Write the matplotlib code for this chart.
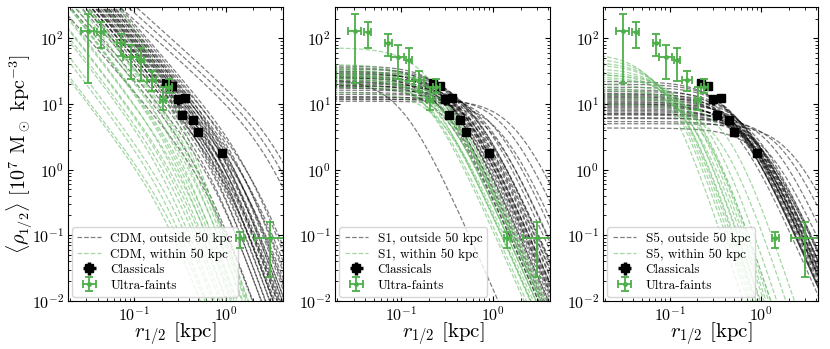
import numpy as np
import matplotlib.pyplot as plt

plt.rcParams['font.family'] = 'serif'
plt.rcParams['font.serif'] = ['cmr10']
plt.rcParams['mathtext.fontset'] = 'cm'
plt.rcParams['axes.formatter.use_mathtext'] = True
plt.rcParams['xtick.direction'] = 'in'
plt.rcParams['ytick.direction'] = 'in'
plt.rcParams['xtick.top'] = True
plt.rcParams['ytick.right'] = True

# observed dwarfs: r_1/2 [kpc], <rho> [1e7 Msun/kpc^3]
uf_r = [0.031, 0.043, 0.072, 0.092, 0.12, 0.155, 0.205, 0.24, 1.43, 3.0]
uf_r_lo = [0.005, 0.004, 0.0066, 0.016, 0.008, 0.017, 0.015, 0.02, 0.13, 0.9]
uf_r_hi = [0.005, 0.004, 0.0072, 0.015, 0.009, 0.019, 0.015, 0.02, 0.13, 2.0]
uf_rho = [130, 123, 86, 52, 46, 23, 11.5, 18, 0.09, 0.09]
uf_rho_lo = [109, 53, 33, 28, 24, 7, 3.4, 3.2, 0.027, 0.067]
uf_rho_hi = [103, 52, 32, 28, 24, 9, 6.5, 6, 0.022, 0.07]

cl_r = [0.22, 0.26, 0.30, 0.36, 0.33, 0.44, 0.50, 0.90]
cl_rho = [21, 19, 11.8, 12.5, 6.8, 5.7, 3.8, 1.8]
cl_r_err = [0.012, 0.008, 0.025, 0.015, 0.008, 0.012, 0.012, 0.06]
cl_rho_err = [2.0, 1.0, 2.0, 1.3, 0.4, 0.4, 0.25, 0.25]

# CDM curves: density at 0.3 kpc and break radius
cdm_out_v = [28, 25, 23, 21, 20, 19, 18, 17, 16, 15, 14.5, 14, 13, 12.5, 12,
             11, 10.5, 10, 9.5, 9, 8.5, 8, 7.5, 7, 6.5, 6, 5, 4, 3, 2.2]
cdm_out_rs = [2.0, 1.5, 2.5, 1.2, 1.8, 1.0, 1.4, 2.2, 1.1, 1.6, 0.9, 1.3, 1.0, 1.9, 0.8,
              1.2, 1.5, 0.9, 1.1, 0.8, 1.3, 1.0, 0.7, 0.9, 1.2, 0.8, 0.7, 0.8, 0.6, 0.7]
cdm_big_v = [80, 62, 48]
cdm_big_rs = [4.0, 3.5, 3.0]
cdm_in_v = [7, 5, 3.5, 3.0, 2.5, 2.0, 1.7, 1.4, 1.2, 1.0, 0.85, 0.7, 0.55, 0.45,
            0.35, 0.25, 0.18, 0.12, 0.09, 0.065]
cdm_in_rs = [0.22, 0.28, 0.45, 0.4, 0.35, 0.45, 0.3, 0.4, 0.35, 0.3, 0.4, 0.3, 0.35,
             0.3, 0.3, 0.25, 0.3, 0.25, 0.3, 0.25]

# SIDM curves: central density and core radius
s1_out_p = [38, 36, 34, 32, 31, 30, 29, 28, 27, 26, 26, 25, 24.5, 24, 23, 22, 22, 21,
            20, 19.5, 19, 18.6, 18, 17.4, 16.2, 15, 14, 13, 12.6, 12, 11.7, 11]
s1_out_rc = [0.35, 0.3, 0.4, 0.28, 0.45, 0.33, 0.38, 0.5, 0.36, 0.42, 0.27, 0.35, 0.55,
             0.1, 0.45, 0.4, 0.3, 0.5, 0.6, 0.34, 0.45, 0.7, 0.3, 0.5, 0.8, 0.6, 1.0,
             0.7, 1.4, 0.9, 1.8, 1.2]
s1_in_p = [72, 40, 36, 34, 32, 30, 29, 28, 27, 26, 25, 24, 22, 20, 18, 15]
s1_in_rc = [0.2, 0.22, 0.26, 0.2, 0.3, 0.24, 0.18, 0.28, 0.22, 0.32, 0.2, 0.26, 0.3,
            0.24, 0.34, 0.28]

s5_out_p = [22, 20, 18, 16.5, 15.5, 14.5, 14, 13.5, 13, 12.5, 12, 11.5, 11, 10.5, 10,
            10, 9.6, 9.2, 8.8, 8.4, 8, 7.6, 7.2, 7, 6.8, 6.2, 6, 5.4, 5, 4.3]
s5_out_rc = [0.45, 0.5, 0.55, 0.48, 0.6, 0.5, 0.65, 0.55, 0.52, 0.7, 0.6, 0.62, 0.5,
             0.75, 0.58, 0.85, 0.65, 0.7, 0.8, 0.68, 0.75, 0.9, 0.78, 1.3, 0.85, 1.0,
             1.7, 1.2, 2.2, 1.1]
s5_in_p = [59, 50, 44, 40, 35, 31, 29, 28, 26, 24, 20, 18, 16, 14, 12, 10]
s5_in_rc = [0.085, 0.1, 0.11, 0.12, 0.13, 0.15, 0.14, 0.18, 0.16, 0.2, 0.22, 0.19, 0.27,
            0.24, 0.45, 0.38]

r = np.logspace(np.log10(0.015), np.log10(6), 300)


def shape(x, rs, a, b):
    return (x / rs) ** (-a) * (1 + (x / rs) ** 2) ** (-(b - a) / 2)


def cusp(v03, rs, a, b):
    return v03 * shape(r, rs, a, b) / shape(0.3, rs, a, b)


def core(p, rc, b):
    return p * shape(r, rc, 0, b)


panels = [
    ('CDM', [cusp(v, s, 1.6, 4.0) for v, s in zip(cdm_out_v, cdm_out_rs)]
            + [cusp(v, s, 1.25, 3.5) for v, s in zip(cdm_big_v, cdm_big_rs)],
            [cusp(v, s, 1.8, 4.0) for v, s in zip(cdm_in_v, cdm_in_rs)]),
    ('S1', [core(p, c, 3.2) for p, c in zip(s1_out_p, s1_out_rc)],
           [core(p, c, 3.2) for p, c in zip(s1_in_p, s1_in_rc)]),
    ('S5', [core(p, c, 3.2) for p, c in zip(s5_out_p, s5_out_rc)],
           [core(p, c, 4.3) for p, c in zip(s5_in_p, s5_in_rc)]),
]

green = '#4daf4a'
fig = plt.figure(figsize=(8.3, 3.49), dpi=100)
lefts = [0.082, 0.404, 0.727]
for i, (name, outside, within) in enumerate(panels):
    ax = fig.add_axes([lefts[i], 0.138, 0.259, 0.842])
    for k, y in enumerate(outside):
        ax.plot(r, y, ls='--', color='k', alpha=0.5, lw=0.9,
                label=name + ', outside 50 kpc' if k == 0 else None)
    for k, y in enumerate(within):
        ax.plot(r, y, ls='--', color='#5cb85c', alpha=0.55, lw=0.9,
                label=name + ', within 50 kpc' if k == 0 else None)
    ax.errorbar(cl_r, cl_rho, xerr=cl_r_err, yerr=cl_rho_err, fmt='s', color='k',
                ms=5.5, elinewidth=2.5, capsize=0, label='Classicals', zorder=5)
    ax.errorbar(uf_r, uf_rho, xerr=[uf_r_lo, uf_r_hi], yerr=[uf_rho_lo, uf_rho_hi],
                fmt='o', color=green, ms=2.5, elinewidth=1.3, capsize=3, capthick=1.3,
                label='Ultra-faints', zorder=6)
    ax.set_xscale('log')
    ax.set_yscale('log')
    ax.set_xlim(0.019, 4.2)
    ax.set_ylim(1e-2, 3e2)
    ax.tick_params(labelsize=11.5, pad=3)
    ax.set_xlabel(r'$r_{1/2}$ [kpc]', fontsize=15)
    ax.xaxis.set_label_coords(0.5, -0.068)
    if i == 0:
        ax.set_ylabel(r'$\langle\rho_{1/2}\rangle$ [$10^7$ M$_\odot$ kpc$^{-3}$]',
                      fontsize=14.5)
        ax.yaxis.set_label_coords(-0.16, 0.5)
    ax.legend(loc='lower left', fontsize=9.5, labelspacing=0.25, handlelength=1.8,
              handletextpad=0.7, borderaxespad=0.3)

fig.savefig('out.png', dpi=100)
